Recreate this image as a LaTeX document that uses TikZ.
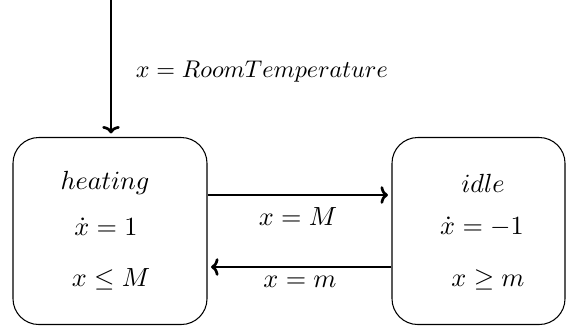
\documentclass[tikz,border=0pt]{standalone}
\usetikzlibrary{arrows.meta}
\begin{document}
\begin{tikzpicture}[x=0.015cm,y=-0.015cm,
  state/.style={draw,line width=0.45pt,rounded corners=11pt,inner sep=0pt},
  trans/.style={line width=1.15pt,-{To[length=3.2pt,width=7.5pt]}},
  lbl/.style={inner sep=1pt,scale=1.12,transform shape}]
\useasboundingbox (0,0) rectangle (576,326);
\node[state,minimum width=194*0.015cm,minimum height=187*0.015cm] (heat) at (110,231) {};
\node[state,minimum width=173*0.015cm,minimum height=187*0.015cm] (idle) at (478.5,231) {};
\node[lbl] (h1) at (105,183) {$heating$};
\node[lbl] (h2) at (106,227) {$\dot x=1$};
\node[lbl] (h3) at (111,279) {$x\le M$};
\node[lbl] (i1) at (483,183) {$idle$};
\node[lbl] (i2) at (482,227) {$\dot x=-1$};
\node[lbl] (i3) at (488,280) {$x\ge m$};
\coordinate (start) at (111,0);
\coordinate (up) at (0,195);
\coordinate (dn) at (0,267);
\draw[trans,shorten >=1.5pt] (start) -- (start |- heat.north);
\node[inner sep=1pt,anchor=west,scale=1.03,transform shape] (init) at (133,72) {$x=RoomTemperature$};
\draw[trans,shorten >=1.5pt] (heat.east |- up) -- (idle.west |- up);
\draw[trans,shorten >=1.5pt] (idle.west |- dn) -- (heat.east |- dn);
\node[lbl] (l1) at (298,217) {$x=M$};
\node[lbl] (l2) at (300,282) {$x=m$};
\end{tikzpicture}
\end{document}
